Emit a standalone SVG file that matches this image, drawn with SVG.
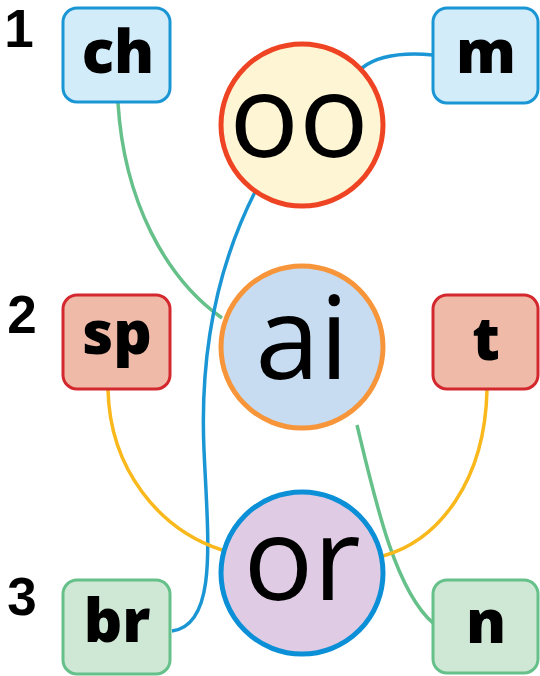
<svg xmlns="http://www.w3.org/2000/svg" width="540" height="676" viewBox="0 0 540 676">
<style>
.box{stroke-width:3}
.blue{fill:#d3ecfa;stroke:#1a96d5}
.red{fill:#efbba8;stroke:#d4282f}
.green{fill:#cfe8d5;stroke:#66c08a}
.bt{font-family:"Open Sans","DejaVu Sans",sans-serif;font-weight:800;font-size:60px;fill:#000;text-anchor:middle}
.ct{font-family:"Open Sans","DejaVu Sans",sans-serif;font-weight:400;font-size:116px;fill:#000;text-anchor:middle}
.num{font-family:"Liberation Sans","Arial",sans-serif;font-weight:700;font-size:53px;fill:#000;text-anchor:middle}
.c{fill:none;stroke-width:3.5}
</style>
<rect width="540" height="676" fill="#fff"/>
<g id="connectors">
<path class="c" stroke="#66c08a" d="M118,103 C124,200 165,278 222,318"/>
<path class="c" stroke="#1a96d5" d="M433,55 C400,52 376,57 362,68"/>
<path class="c" stroke="#1a96d5" d="M256,190 C215,270 200,360 204,450 C208,540 218,625 172,631"/>
<path class="c" stroke="#66c08a" d="M357,425 C375,500 395,590 433,623"/>
<path class="c" stroke="#f9b81b" d="M108,390 C110,470 160,530 222,550"/>
<path class="c" stroke="#f9b81b" d="M487,390 C485,480 440,540 383,556"/>
</g>
<g id="labels">
<text class="num" x="19" y="47">1</text>
<text class="num" x="22" y="333">2</text>
<text class="num" x="22" y="615">3</text>
</g>
<g id="node-ch"><rect class="box blue" x="63" y="8" width="107" height="94" rx="14"/><text class="bt" x="118" y="73">ch</text></g>
<g id="node-m"><rect class="box blue" x="433" y="8" width="105" height="95" rx="14"/><text class="bt" x="486" y="73">m</text></g>
<g id="node-sp"><rect class="box red" x="63" y="295" width="107" height="94" rx="14"/><text class="bt" x="117" y="354">sp</text></g>
<g id="node-t"><rect class="box red" x="433" y="295" width="105" height="94" rx="14"/><text class="bt" x="486" y="360">t</text></g>
<g id="node-br"><rect class="box green" x="63" y="580" width="107" height="94" rx="14"/><text class="bt" x="117" y="642">br</text></g>
<g id="node-n"><rect class="box green" x="433" y="580" width="105" height="93" rx="14"/><text class="bt" x="486" y="643">n</text></g>
<g id="node-oo"><circle cx="302" cy="125" r="81" fill="#fdf5d3" stroke="#ef4423" stroke-width="5"/><text class="ct" x="299" y="157">oo</text></g>
<g id="node-ai"><circle cx="302" cy="347" r="81" fill="#c7dcf1" stroke="#f7953a" stroke-width="5"/><text class="ct" x="302" y="379">ai</text></g>
<g id="node-or"><circle cx="302" cy="573" r="81" fill="#dfcbe4" stroke="#0b8fd6" stroke-width="5"/><text class="ct" x="302" y="600">or</text></g>
</svg>
